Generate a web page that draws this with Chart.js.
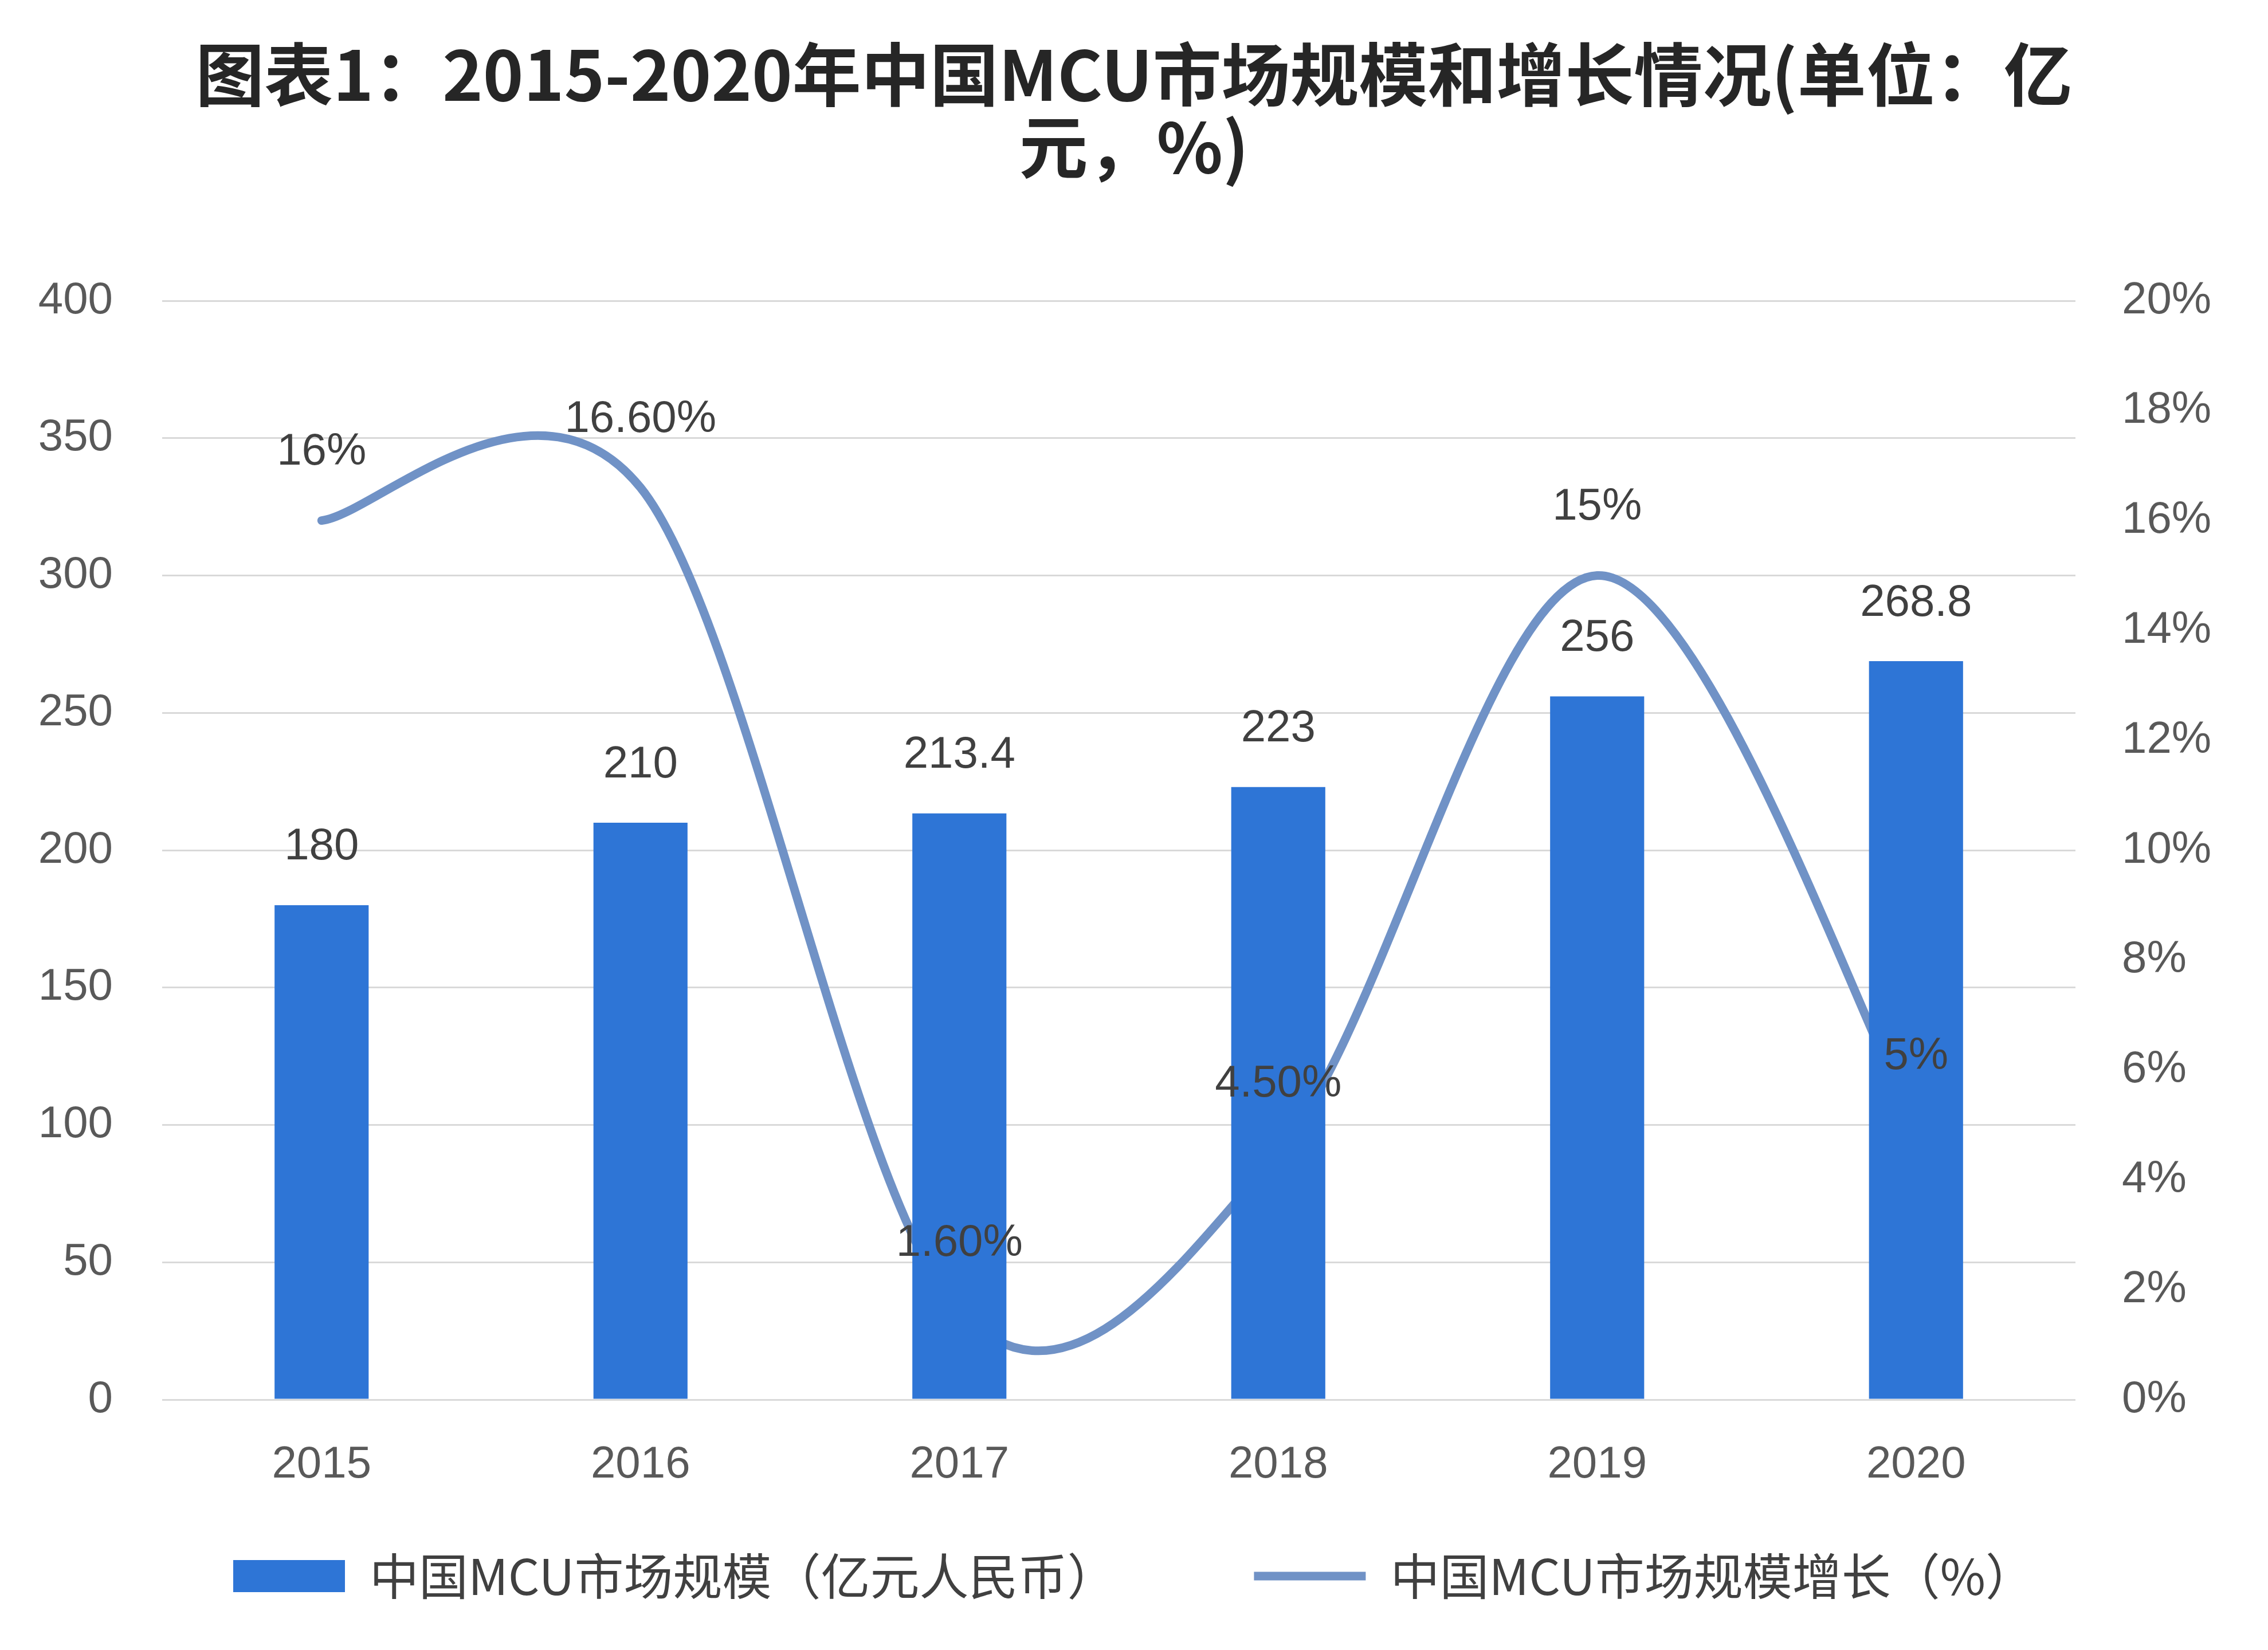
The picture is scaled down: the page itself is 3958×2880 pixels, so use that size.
<!DOCTYPE html>
<html>
<head>
<meta charset="utf-8">
<script src="https://cdn.jsdelivr.net/npm/chart.js@4.4.1/dist/chart.umd.min.js"></script>
<style>
  html, body { margin: 0; padding: 0; background: #fff; }
  #wrap { width: 3958px; height: 2880px; }
</style>
</head>
<body>
<div id="wrap"><canvas id="mcuChart"></canvas></div>
<script>
const years = ["2015", "2016", "2017", "2018", "2019", "2020"];
const marketSize = [180, 210, 213.4, 223, 256, 268.8];
const marketSizeText = ["180", "210", "213.4", "223", "256", "268.8"];
const growth = [16, 16.6, 1.6, 4.5, 15, 5];
const growthText = ["16%", "16.60%", "1.60%", "4.50%", "15%", "5%"];

const titleLines = ["图表1：2015-2020年中国MCU市场规模和增长情况(单位：亿", "元，%)"];
const sizeName = "中国MCU市场规模（亿元人民币）";
const growthName = "中国MCU市场规模增长（%）";

const numFont = "'Liberation Sans', 'Noto Sans CJK SC', sans-serif";
const cjkFont = "'Noto Sans CJK SC', 'Liberation Sans', sans-serif";

// draws the numbers above bars and line points
const valueLabels = {
    id: "valueLabels",
    afterDatasetsDraw(chart) {
        const ctx = chart.ctx;
        ctx.save();
        ctx.font = "78px " + numFont;
        ctx.fillStyle = "#404040";
        ctx.textAlign = "center";
        ctx.textBaseline = "middle";
        chart.data.datasets.forEach((ds, i) => {
            const meta = chart.getDatasetMeta(i);
            meta.data.forEach((el, j) => {
                ctx.fillText(ds.valueText[j], el.x, el.y - ds.labelOffset);
            });
        });
        ctx.restore();
    }
};

// excel style smoothing: control points at 1/6 of the neighbour span
const excelSmooth = {
    id: "excelSmooth",
    beforeDatasetsDraw(chart) {
        chart.data.datasets.forEach((ds, i) => {
            if (ds.type !== "line") return;
            const meta = chart.getDatasetMeta(i);
            const pts = meta.data;
            meta.dataset.updateControlPoints(chart.chartArea, meta.indexAxis);
            const n = pts.length;
            for (let k = 0; k < n; k++) {
                const prev = pts[Math.max(k - 1, 0)];
                const next = pts[Math.min(k + 1, n - 1)];
                const dx = (next.x - prev.x) / 6;
                const dy = (next.y - prev.y) / 6;
                pts[k].cp1x = pts[k].x - dx;
                pts[k].cp1y = pts[k].y - dy;
                pts[k].cp2x = pts[k].x + dx;
                pts[k].cp2y = pts[k].y + dy;
            }
        });
    }
};

// the x axis is squeezed in the layout, let its labels draw below it
const xLabelRoom = {
    id: "xLabelRoom",
    afterLayout(chart) {
        chart.scales.x.bottom = chart.height;
    }
};

const ctx = document.getElementById("mcuChart").getContext("2d");

new Chart(ctx, {
    data: {
        labels: years,
        datasets: [
            {
                type: "bar",
                label: sizeName,
                data: marketSize,
                valueText: marketSizeText,
                labelOffset: 101,
                backgroundColor: "#2e75d6",
                borderWidth: 0,
                pointStyle: "rect",
                categoryPercentage: 1.0,
                barPercentage: 0.295,
                yAxisID: "y",
                order: 1
            },
            {
                type: "line",
                label: growthName,
                data: growth,
                valueText: growthText,
                labelOffset: 119,
                borderColor: "#7092c6",
                backgroundColor: "#7092c6",
                borderWidth: 15,
                borderCapStyle: "round",
                tension: 0.5,
                pointRadius: 0,
                pointStyle: "line",
                yAxisID: "y1",
                order: 2
            }
        ]
    },
    options: {
        responsive: true,
        maintainAspectRatio: false,
        animation: false,
        layout: { padding: { top: 0, left: 0, right: 0, bottom: 76 } },
        plugins: {
            title: {
                display: true,
                text: titleLines,
                color: "#262626",
                font: { family: cjkFont, size: 120, weight: "bold", lineHeight: 1.05 },
                padding: { top: 67, bottom: 206 }
            },
            legend: {
                position: "bottom",
                labels: {
                    usePointStyle: true,
                    pointStyleWidth: 195,
                    boxHeight: 56,
                    padding: 240,
                    color: "#404040",
                    font: { family: cjkFont, size: 86 }
                }
            },
            tooltip: { enabled: false }
        },
        scales: {
            x: {
                offset: true,
                grid: { display: false, drawTicks: false },
                border: { display: false },
                ticks: { color: "#595959", padding: 68, font: { family: numFont, size: 78 } },
                afterFit: (s) => { s.height = 25; }
            },
            y: {
                position: "left",
                min: 0,
                max: 400,
                ticks: { stepSize: 50, color: "#595959", padding: 86, font: { family: numFont, size: 78 } },
                grid: { color: "#d9d9d9", lineWidth: 3, drawTicks: false },
                border: { display: false },
                afterFit: (s) => { s.width = 283; }
            },
            y1: {
                position: "right",
                min: 0,
                max: 20,
                ticks: {
                    stepSize: 2,
                    color: "#595959",
                    padding: 81,
                    font: { family: numFont, size: 78 },
                    callback: (v) => v + "%"
                },
                grid: { display: false, drawTicks: false },
                border: { display: false },
                afterFit: (s) => { s.width = 336; }
            }
        }
    },
    plugins: [excelSmooth, xLabelRoom, valueLabels]
});
</script>
</body>
</html>
